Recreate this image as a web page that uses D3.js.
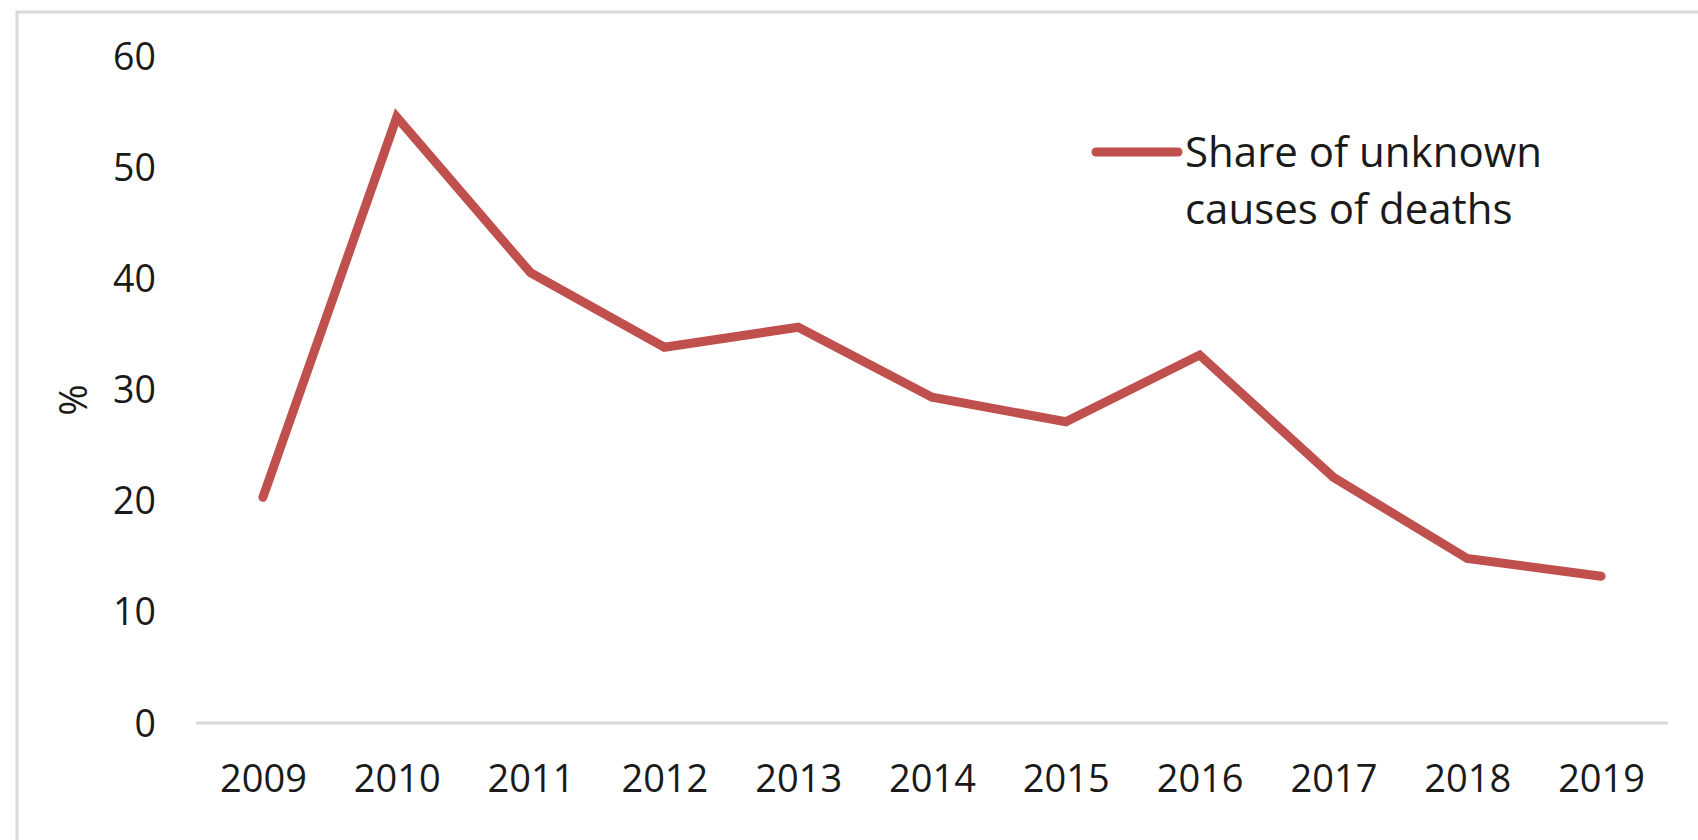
<!DOCTYPE html>
<html>
<head>
<meta charset="utf-8">
<script src="https://cdn.jsdelivr.net/npm/d3@7"></script>
<style>
  body { margin: 0; background: #fff; }
  svg text { font-family: "Open Sans", sans-serif; fill: #1a1a1a; }
</style>
</head>
<body>
<div id="chartArea"></div>
<script>
// data
let years = ['2009', '2010', '2011', '2012', '2013', '2014', '2015', '2016', '2017', '2018', '2019'];
let shares = [20.3, 54.5, 40.5, 33.8, 35.6, 29.3, 27.1, 33.1, 22.1, 14.8, 13.2];
let yTicks = [0, 10, 20, 30, 40, 50, 60];
let seriesName = ['Share of unknown', 'causes of deaths'];
let yLabel = '%';

let width = 1698, height = 840;
let plot = { left: 196, right: 1668, top: 56, bottom: 723 };
let red = '#c0504d';

let svg = d3.select('#chartArea')
    .append('svg')
        .attr('width', width)
        .attr('height', height);

// chart frame (cut off at right and bottom)
svg.append('rect')
    .attr('x', 17)
    .attr('y', 12)
    .attr('width', width + 20)
    .attr('height', height + 20)
    .attr('fill', 'none')
    .attr('stroke', '#d9d9d9')
    .attr('stroke-width', 3);

let xScale = d3.scalePoint()
    .domain(years)
    .range([plot.left, plot.right])
    .padding(0.5);

let yScale = d3.scaleLinear()
    .domain([0, 60])
    .range([plot.bottom, plot.top]);

// y axis labels only
let yAxis = svg.append('g')
    .attr('class', 'y axis')
    .attr('transform', 'translate(156,0)')
    .call(d3.axisLeft(yScale).tickValues(yTicks).tickSize(0).tickPadding(0));
yAxis.select('.domain').remove();
yAxis.selectAll('text')
    .attr('font-size', 37.5)
    .attr('fill', '#1a1a1a')
    .attr('dy', '0.35em');

// x axis
let xAxis = svg.append('g')
    .attr('class', 'x axis')
    .attr('transform', 'translate(0,' + plot.bottom + ')')
    .call(d3.axisBottom(xScale).tickSize(0).tickPadding(0));
xAxis.select('.domain')
    .attr('d', 'M' + plot.left + ',0H' + plot.right)
    .attr('stroke', '#d9d9d9')
    .attr('stroke-width', 3);
xAxis.selectAll('text')
    .attr('font-size', 38)
    .attr('fill', '#1a1a1a')
    .attr('y', 56)
    .attr('dy', '0.35em');

svg.append('text')
    .attr('transform', 'translate(74,400) rotate(-90)')
    .attr('text-anchor', 'middle')
    .attr('dy', '0.35em')
    .attr('font-size', 38)
    .text(yLabel);

let line = d3.line()
    .x((d, i) => xScale(years[i]))
    .y(d => yScale(d));

svg.append('path')
    .attr('d', line(shares))
    .attr('fill', 'none')
    .attr('stroke', red)
    .attr('stroke-width', 9)
    .attr('stroke-linejoin', 'miter')
    .attr('stroke-linecap', 'round');

// legend
let legend = svg.append('g').attr('transform', 'translate(1096,152)');
legend.append('line')
    .attr('x1', 0).attr('x2', 82)
    .attr('stroke', red)
    .attr('stroke-width', 9)
    .attr('stroke-linecap', 'round');
legend.selectAll('text.leg')
    .data(seriesName)
    .enter().append('text')
        .attr('class', 'leg')
        .attr('x', 89)
        .attr('y', (d, i) => i * 57)
        .attr('dy', '0.35em')
        .attr('font-size', 42)
        .text(d => d);
</script>
</body>
</html>
